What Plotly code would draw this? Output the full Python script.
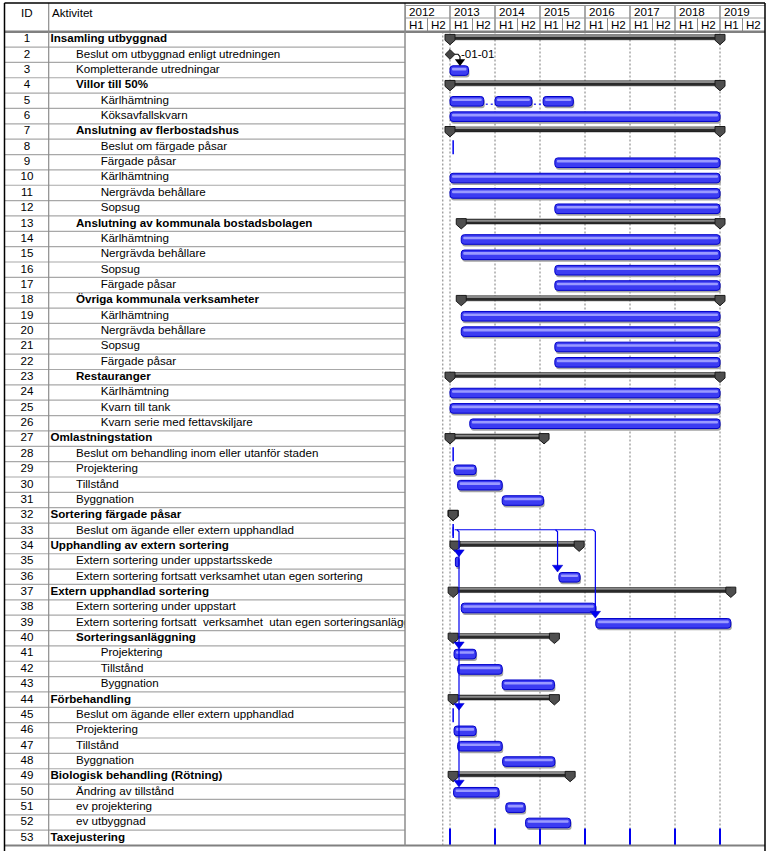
import plotly.graph_objects as go

# ---------------- data ----------------
ids = list(range(1, 54))
names = [
    "Insamling utbyggnad", "Beslut om utbyggnad enligt utredningen", "Kompletterande utredningar",
    "Villor till 50%", "Kärlhämtning", "Köksavfallskvarn", "Anslutning av flerbostadshus",
    "Beslut om färgade påsar", "Färgade påsar", "Kärlhämtning", "Nergrävda behållare", "Sopsug",
    "Anslutning av kommunala bostadsbolagen", "Kärlhämtning", "Nergrävda behållare", "Sopsug",
    "Färgade påsar", "Övriga kommunala verksamheter", "Kärlhämtning", "Nergrävda behållare",
    "Sopsug", "Färgade påsar", "Restauranger", "Kärlhämtning", "Kvarn till tank",
    "Kvarn serie med fettavskiljare", "Omlastningstation",
    "Beslut om behandling inom eller utanför staden", "Projektering", "Tillstånd", "Byggnation",
    "Sortering färgade påsar", "Beslut om ägande eller extern upphandlad",
    "Upphandling av extern sortering", "Extern sortering under uppstartsskede",
    "Extern sortering fortsatt verksamhet utan egen sortering", "Extern upphandlad sortering",
    "Extern sortering under uppstart",
    "Extern sortering fortsatt \u00a0verksamhet \u00a0utan egen sorteringsanläggning",
    "Sorteringsanläggning", "Projektering", "Tillstånd", "Byggnation", "Förbehandling",
    "Beslut om ägande eller extern upphandlad", "Projektering", "Tillstånd", "Byggnation",
    "Biologisk behandling (Rötning)", "Ändring av tillstånd", "ev projektering", "ev utbyggnad",
    "Taxejustering",
]
levels = [0, 1, 1, 1, 2, 2, 1, 2, 2, 2, 2, 2, 1, 2, 2, 2, 2, 1, 2, 2, 2, 2, 1, 2, 2, 2,
          0, 1, 1, 1, 1, 0, 1, 0, 1, 1, 0, 1, 1, 1, 2, 2, 2, 0, 1, 1, 1, 1, 0, 1, 1, 1, 0]
bold_rows = [1, 4, 7, 13, 18, 23, 27, 32, 34, 37, 40, 44, 49, 53]

years = [2012, 2013, 2014, 2015, 2016, 2017, 2018, 2019]
halves = ["H1", "H2"]
status_date = 2012.84

# normal tasks (decimal years)
task_rows = [3, 5, 5, 5, 6, 9, 10, 11, 12, 14, 15, 16, 17, 19, 20, 21, 22, 24, 25, 26,
             29, 30, 31, 35, 36, 38, 39, 41, 42, 43, 46, 47, 48, 50, 51, 52]
task_start = [2013.00, 2013.00, 2014.00, 2015.07, 2013.00, 2015.33, 2013.00, 2013.00, 2015.33,
              2013.25, 2013.25, 2015.33, 2015.33, 2013.25, 2013.25, 2015.33, 2015.33,
              2013.00, 2013.00, 2013.44, 2013.09, 2013.17, 2014.16, 2013.12, 2015.42,
              2013.25, 2016.24, 2013.09, 2013.17, 2014.16, 2013.09, 2013.17, 2014.17,
              2013.08, 2014.24, 2014.68]
task_end = [2013.41, 2013.75, 2014.82, 2015.74, 2019.00, 2019.00, 2019.00, 2019.00, 2019.00,
            2019.00, 2019.00, 2019.00, 2019.00, 2019.00, 2019.00, 2019.00, 2019.00,
            2019.00, 2019.00, 2019.00, 2013.58, 2014.16, 2015.08, 2013.20, 2015.89,
            2016.24, 2019.24, 2013.58, 2014.16, 2015.32, 2013.58, 2014.16, 2015.33,
            2014.09, 2014.67, 2015.68]

# split task connectors (row 5)
split_rows = [5, 5]
split_from = [2013.75, 2014.82]
split_to = [2014.00, 2015.07]

# summary tasks
summary_rows = [1, 4, 7, 13, 18, 23, 27, 32, 34, 37, 40, 44, 49]
summary_start = [2013.00, 2013.00, 2013.00, 2013.25, 2013.25, 2013.00, 2013.00, 2013.07,
                 2013.11, 2013.07, 2013.07, 2013.07, 2013.07]
summary_end = [2019.00, 2019.00, 2019.00, 2019.00, 2019.00, 2019.00, 2015.09, 2013.07,
               2015.87, 2019.24, 2015.32, 2015.32, 2015.67]

# zero-length tasks
zero_rows = [8, 28, 33, 45]
zero_dates = [2013.07, 2013.07, 2013.07, 2013.07]

# milestone
milestone_rows = [2]
milestone_dates = [2013.00]
milestone_labels = ["-01-01"]

# recurring task (Taxejustering)
recurring_row = 53
recurring_dates = [2013, 2014, 2015, 2016, 2017, 2018, 2019]

# dependency links from row 33
link_src_row = 33
link_src_x = 2013.07
link_targets = [35, 36, 39, 41, 45, 50]
link_target_x = [2013.20, 2015.39, 2016.23, 2013.20, 2013.20, 2013.20]
# milestone link (row 2 -> row 3)
ms_link_from_row, ms_link_to_row, ms_link_x = 2, 3, 2013.00

# ---------------- geometry ----------------
W, H = 773, 851
X_L, X_ID, X_TR, X_CR = 4.5, 48.7, 405.0, 765.0
Y_TOP, Y_YB, Y_HB, Y_RB = 3.0, 18.0, 31.7, 845.5
N = 53
RH = (Y_RB - Y_HB) / N
YPX = 45.0
FONT = "Liberation Sans, Arial, sans-serif"
FS = 11.6


def pyp(v):
    return 1 - v / H


def dyp(p):
    return p / RH


def dxp(p):
    return p / YPX


fig = go.Figure()
common = dict(hoverinfo="skip", showlegend=False)

# ---------------- bars ----------------
BAR_H, BAR_OFF = 9.6, -4.3
durs = [e - s for s, e in zip(task_start, task_end)]
fig.add_trace(go.Bar(y=task_rows, x=durs, base=[s + dxp(1) for s in task_start], orientation="h",
                     width=dyp(BAR_H), offset=dyp(BAR_OFF + 2.2),
                     marker=dict(color="#A4A4A4", line=dict(width=0), cornerradius=3), **common))
fig.add_trace(go.Bar(y=task_rows, x=durs, base=task_start, orientation="h",
                     width=dyp(BAR_H), offset=dyp(BAR_OFF),
                     marker=dict(color="#3C3CF2", line=dict(color="#0000C8", width=1), cornerradius=3),
                     **common))
fig.add_trace(go.Bar(y=task_rows, x=[max(d - dxp(4), 0) for d in durs],
                     base=[s + dxp(2) for s in task_start], orientation="h",
                     width=dyp(2.6), offset=dyp(BAR_OFF + 2.0),
                     marker=dict(color="#9A9AFF", line=dict(width=0), cornerradius=1), **common))

# split connectors
sx, sy = [], []
for r, a, b in zip(split_rows, split_from, split_to):
    sx += [a + dxp(2), b - dxp(2), None]
    sy += [r + dyp(3.5), r + dyp(3.5), None]
fig.add_trace(go.Scatter(x=sx, y=sy, mode="lines", line=dict(color="#3C3CF2", width=1.5, dash="2px,3px"),
                         **common))

# summary bars
sdur = [e - s for s, e in zip(summary_start, summary_end)]
fig.add_trace(go.Bar(y=summary_rows, x=sdur, base=summary_start, orientation="h",
                     width=dyp(5.0), offset=dyp(-4.6),
                     marker=dict(color="#2A2A2A", line=dict(color="#111111", width=0.5)), **common))
fig.add_trace(go.Bar(y=summary_rows, x=sdur, base=summary_start, orientation="h",
                     width=dyp(1.4), offset=dyp(-3.9),
                     marker=dict(color="#8A8A8A", line=dict(width=0)), **common))

# summary caps
cap = [(-5, -5.0), (5, -5.0), (5, 0.9), (0, 5.3), (-5, 0.9), (-5, -5.0)]
cx, cy = [], []
for r, s, e in zip(summary_rows, summary_start, summary_end):
    for xc in (s, e):
        for a, b in cap:
            cx.append(xc + dxp(a))
            cy.append(r + dyp(b))
        cx.append(None)
        cy.append(None)
fig.add_trace(go.Scatter(x=cx, y=cy, mode="lines", fill="toself", fillcolor="#4E4E4E",
                         line=dict(color="#1A1A1A", width=1), **common))

# zero-length tasks
fig.add_trace(go.Scatter(x=zero_dates, y=[r + dyp(0.3) for r in zero_rows], mode="markers",
                         marker=dict(symbol="line-ns", size=10, line=dict(color="#0000F0", width=1.5)),
                         **common))

# recurring
fig.add_trace(go.Scatter(x=recurring_dates, y=[recurring_row - dyp(1.0)] * len(recurring_dates),
                         mode="markers",
                         marker=dict(symbol="line-ns", size=12, line=dict(color="#0000F0", width=2)),
                         **common))

# dependency links (blue)
lx, ly = [], []
top_y = link_src_row - dyp(1.0)
lx += [link_src_x + dxp(1.5), max(link_target_x) - dxp(2), None]
ly += [top_y, top_y, None]
for xv in sorted(set(link_target_x)):
    last = max(t for t, xx in zip(link_targets, link_target_x) if xx == xv)
    lx += [xv - dxp(2), xv, xv, None]
    ly += [top_y, top_y + dyp(2), last - dyp(8), None]
lx += [link_src_x, link_src_x, None]
ly += [top_y - dyp(2.5), top_y + dyp(6), None]
fig.add_trace(go.Scatter(x=lx, y=ly, mode="lines", line=dict(color="#0000F0", width=1.2), **common))
fig.add_trace(go.Scatter(x=link_target_x, y=[t - dyp(9.3) for t in link_targets], mode="markers",
                         marker=dict(symbol="triangle-down", size=9, color="#0000F0",
                                     line=dict(color="#0000C0", width=0.5)), **common))

# milestone link (black)
mlx = [ms_link_x + dxp(3), ms_link_x + dxp(8), ms_link_x + dxp(10), ms_link_x + dxp(10)]
mly = [ms_link_from_row - dyp(0.5), ms_link_from_row - dyp(0.5), ms_link_from_row + dyp(2),
       ms_link_to_row - dyp(9)]
fig.add_trace(go.Scatter(x=mlx, y=mly, mode="lines", line=dict(color="#000000", width=1.2), **common))
fig.add_trace(go.Scatter(x=[ms_link_x + dxp(10)], y=[ms_link_to_row - dyp(8.6)], mode="markers",
                         marker=dict(symbol="triangle-down", size=9, color="#000000"), **common))

# milestone diamond
fig.add_trace(go.Scatter(x=milestone_dates, y=[r - dyp(0.3) for r in milestone_rows], mode="markers",
                         marker=dict(symbol="diamond", size=7.5, color="#454545",
                                     line=dict(color="#1A1A1A", width=1)), **common))
for d, r, lab in zip(milestone_dates, milestone_rows, milestone_labels):
    fig.add_annotation(x=d + dxp(8.5), y=r - dyp(1.5), xref="x", yref="y", text=lab, showarrow=False,
                       xanchor="left", yanchor="middle", font=dict(family=FONT, size=FS, color="#000"))

# ---------------- table text ----------------
indent_px = [50.5, 76.0, 100.7]
lab_x = [indent_px[l] for l in levels]
lab_t = [("<b>%s</b>" % n) if i in bold_rows else n for i, n in zip(ids, names)]
fig.add_trace(go.Scatter(x=lab_x, y=ids, xaxis="x2", yaxis="y", mode="text", text=lab_t,
                         textposition="middle right", cliponaxis=True,
                         textfont=dict(family=FONT, size=FS, color="#000"), **common))
fig.add_trace(go.Scatter(x=[27.0] * len(ids), y=ids, xaxis="x2", yaxis="y", mode="text",
                         text=[str(i) for i in ids], textposition="middle center",
                         textfont=dict(family=FONT, size=FS, color="#000"), **common))

# ---------------- shapes: grid + frame ----------------
shapes = []
for yv in years[1:] + [status_date]:
    shapes.append(dict(type="line", xref="x", yref="paper", x0=yv, x1=yv, y0=pyp(Y_RB), y1=pyp(Y_HB),
                       line=dict(color="#7A7A7A", width=1, dash="2px,2px"), layer="below"))
# table row lines
for k in range(1, N):
    shapes.append(dict(type="line", xref="x2", yref="y", x0=X_L, x1=X_TR, y0=k + 0.5, y1=k + 0.5,
                       line=dict(color="#A8A8A8", width=1.2)))
# header lines
for yv in years:
    shapes.append(dict(type="line", xref="x", yref="paper", x0=yv, x1=yv, y0=pyp(Y_HB), y1=pyp(5.5),
                       line=dict(color="#8C8C8C", width=1.5)))
    shapes.append(dict(type="line", xref="x", yref="paper", x0=yv + 0.5, x1=yv + 0.5, y0=pyp(Y_HB),
                       y1=pyp(Y_YB), line=dict(color="#8C8C8C", width=1)))
shapes.append(dict(type="line", xref="paper", yref="paper", x0=X_TR / W, x1=X_CR / W, y0=pyp(Y_YB),
                   y1=pyp(Y_YB), line=dict(color="#9A9A9A", width=1)))
shapes.append(dict(type="line", xref="paper", yref="paper", x0=X_TR / W, x1=X_CR / W, y0=pyp(5.5),
                   y1=pyp(5.5), line=dict(color="#9A9A9A", width=1)))
shapes.append(dict(type="line", xref="paper", yref="paper", x0=X_L / W, x1=X_CR / W, y0=pyp(Y_HB),
                   y1=pyp(Y_HB), line=dict(color="#808080", width=2.5)))
shapes.append(dict(type="line", xref="paper", yref="paper", x0=X_L / W, x1=X_CR / W, y0=pyp(Y_RB),
                   y1=pyp(Y_RB), line=dict(color="#808080", width=2)))
# column dividers
shapes.append(dict(type="line", xref="paper", yref="paper", x0=X_ID / W, x1=X_ID / W, y0=pyp(Y_RB),
                   y1=pyp(Y_TOP), line=dict(color="#8C8C8C", width=1.2)))
shapes.append(dict(type="line", xref="paper", yref="paper", x0=X_TR / W, x1=X_TR / W, y0=pyp(Y_RB),
                   y1=pyp(Y_TOP), line=dict(color="#8C8C8C", width=1.5)))
# outer frame
shapes.append(dict(type="line", xref="paper", yref="paper", x0=X_L / W, x1=X_CR / W, y0=pyp(Y_TOP),
                   y1=pyp(Y_TOP), line=dict(color="#000", width=1.5)))
shapes.append(dict(type="line", xref="paper", yref="paper", x0=X_L / W, x1=X_L / W, y0=0,
                   y1=pyp(Y_TOP), line=dict(color="#000", width=1.5)))
shapes.append(dict(type="line", xref="paper", yref="paper", x0=X_CR / W, x1=X_CR / W, y0=0,
                   y1=pyp(Y_TOP), line=dict(color="#000", width=1.5)))

# header text
hf = dict(family=FONT, size=FS, color="#000")
anns = [
    dict(x=27.0 / W, y=pyp(12.5), xref="paper", yref="paper", text="ID", showarrow=False,
         xanchor="center", yanchor="middle", font=hf),
    dict(x=49.5 / W, y=pyp(12.5), xref="paper", yref="paper", text="Aktivitet", showarrow=False,
         xanchor="left", yanchor="middle", font=hf),
]
for yv in years:
    anns.append(dict(x=yv + dxp(2), y=pyp(11.5), xref="x", yref="paper", text=str(yv), showarrow=False,
                     xanchor="left", yanchor="middle", font=hf))
    for j, hl in enumerate(halves):
        anns.append(dict(x=yv + 0.25 + 0.5 * j, y=pyp(24.8), xref="x", yref="paper", text=hl,
                         showarrow=False, xanchor="center", yanchor="middle", font=hf))
for a in anns:
    fig.add_annotation(**a)

fig.update_layout(
    width=W, height=H, margin=dict(l=0, r=0, t=0, b=0), autosize=False,
    paper_bgcolor="white", plot_bgcolor="white", barmode="overlay", hovermode=False,
    showlegend=False, shapes=shapes,
    xaxis=dict(domain=[X_TR / W, X_CR / W], range=[2012, 2020], visible=False, fixedrange=True),
    xaxis2=dict(domain=[0, X_TR / W], range=[0, X_TR], visible=False, fixedrange=True, anchor="y"),
    yaxis=dict(domain=[pyp(Y_RB), pyp(Y_HB)], range=[N + 0.5, 0.5], visible=False, fixedrange=True),
)
fig.write_html("out.html", config={"displayModeBar": False},
               post_script="document.body.style.margin='0';document.body.style.overflow='hidden';")
